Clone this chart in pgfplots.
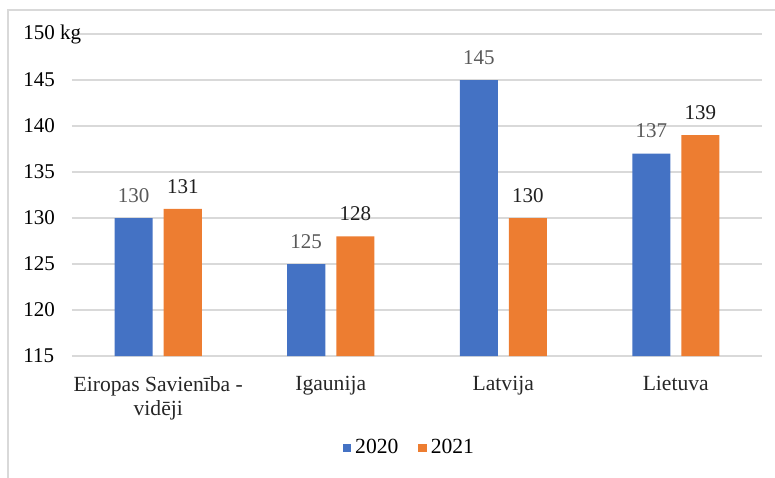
\documentclass[border=0pt]{standalone}
\usepackage{fontspec}
\setmainfont{Liberation Serif}
\usepackage{pgfplots}
\pgfplotsset{compat=1.18}
\definecolor{cblue}{HTML}{4472C4}
\definecolor{corange}{HTML}{ED7D31}
\definecolor{gridgray}{HTML}{D9D9D9}
\begin{document}
\fontsize{10.5}{12.5}\selectfont
\begin{tikzpicture}
\useasboundingbox (0,0) rectangle (387.5pt,238.5pt);
\draw[color=gridgray, line width=0.9pt] (4pt,-5pt) -- (4pt,233.5pt) -- (400pt,233.5pt);
\begin{axis}[
  at={(36pt,60.5pt)}, anchor=south west,
  scale only axis, width=345pt, height=161pt,
  /pgf/number format/assume math mode=true,
  ybar=5.5pt, bar width=19pt,
  xmin=-0.5, xmax=3.5, ymin=115, ymax=150,
  xtick={0,1,2,3},
  xticklabels={{Eiropas Savienība -\\vidēji},Igaunija,Latvija,Lietuva},
  ytick={115,120,125,130,135,140,145,150},
  yticklabels={115,120,125,130,135,140,145,{150 kg}},
  axis line style={draw=none},
  major tick length=0pt,
  tick style={draw=none},
  ymajorgrids, grid style={color=gridgray, line width=0.75pt},
  yticklabel style={anchor=west, inner sep=0pt, xshift=-24.5pt, font=\fontsize{10.5}{12.5}\selectfont, text=black},
  xticklabel style={anchor=north, inner sep=0pt, yshift=-10pt, align=center, font=\fontsize{10.8}{12}\selectfont, text=black!85},
  nodes near coords,
  every node near coord/.append style={anchor=south, inner sep=0pt, yshift=7.5pt, font=\fontsize{10.5}{12.5}\selectfont},
  legend columns=2,
  legend style={draw=none, fill=none, at={(0.4905,-0.2857)}, anchor=center,
    font=\fontsize{10.8}{12.5}\selectfont,
    /tikz/every even column/.append style={column sep=8pt}},
  legend image code/.code={\fill[#1] (-1.5pt,-2.2pt) rectangle (2.7pt,2.2pt);},
]
\addplot[fill=cblue, draw=none, every node near coord/.append style={text=black!65}] coordinates {(0,130) (1,125) (2,145) (3,137)};
\addplot[fill=corange, draw=none, every node near coord/.append style={text=black!88}] coordinates {(0,131) (1,128) (2,130) (3,139)};
\legend{2020,2021}
\end{axis}
\end{tikzpicture}
\end{document}
